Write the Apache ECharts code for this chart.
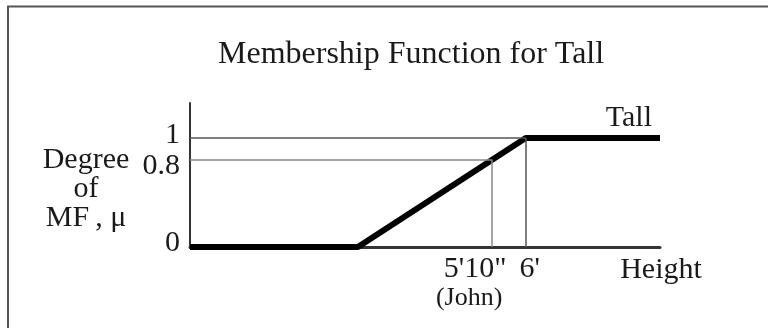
<!DOCTYPE html>
<html>
<head>
<meta charset="utf-8">
<script src="https://cdn.jsdelivr.net/npm/echarts@6/dist/echarts.min.js"></script>
<style>
  html, body { margin: 0; padding: 0; background: #fff; }
  #chart { width: 768px; height: 328px; }
</style>
</head>
<body>
<div id="chart"></div>
<script>
// Height in inches and the fuzzy membership degree for "Tall"
const heights = [52, 62, 72, 80];
const membership = [0, 0, 1, 1];

// John's height (5'10") and his degree of membership
const johnHeight = 70;
const johnDegree = 0.8;
// Height at which membership reaches 1 (6')
const fullHeight = 72;
const fullDegree = 1;

// Tick labels
const johnLabel = '5\'10"';
const johnNote = '(John)';
const fullLabel = "6'";
const yTickValues = [0, 0.8, 1];
const yTickLabels = ['0', '0.8', '1'];

const FONT = "'Liberation Serif', 'DejaVu Serif', serif";
const INK = '#1a1a1a';

const chart = echarts.init(document.getElementById('chart'), null, { renderer: 'canvas' });

const lineData = heights.map((h, i) => [h, membership[i]]);
const xMin = heights[0];
const xMax = heights[heights.length - 1];

// shared settings for the two stacked height axes (one label each)
function heightAxis(extra) {
  return Object.assign({
    type: 'value',
    min: xMin,
    max: xMax,
    position: 'bottom',
    splitLine: { show: false },
    axisTick: { show: false }
  }, extra);
}

chart.setOption({
  backgroundColor: '#fff',
  animation: false,
  title: {
    text: 'Membership Function for Tall',
    left: 213,
    top: 34,
    textStyle: { fontFamily: FONT, fontSize: 32, fontWeight: 'normal', color: INK }
  },
  graphic: [{
    type: 'polyline',
    shape: { points: [[8, 340], [8, 6.5], [780, 6.5]] },
    style: { stroke: '#555', lineWidth: 2, fill: null }
  }],
  grid: { left: 190, right: 108, top: 103, bottom: 81 },
  xAxis: [
    heightAxis({
      axisLine: { lineStyle: { color: '#333', width: 3 } },
      axisLabel: {
        customValues: [johnHeight],
        hideOverlap: false,
        showMinLabel: true,
        showMaxLabel: true,
        margin: 8,
        formatter: function () {
          return '{a|' + johnLabel + '}\n{b|' + johnNote + '}';
        },
        rich: {
          a: { fontFamily: FONT, fontSize: 30, color: INK, lineHeight: 28, padding: [0, 34, 0, 0] },
          b: { fontFamily: FONT, fontSize: 26, color: INK, lineHeight: 30, padding: [0, 46, 0, 0] }
        }
      },
      name: 'Height',
      nameLocation: 'end',
      nameGap: 1,
      nameTextStyle: {
        fontFamily: FONT, fontSize: 30, color: INK,
        align: 'center', verticalAlign: 'top', padding: [8, 0, 0, 0]
      }
    }),
    heightAxis({
      axisLine: { show: false },
      axisLabel: {
        customValues: [fullHeight],
        hideOverlap: false,
        showMinLabel: true,
        showMaxLabel: true,
        margin: 8,
        formatter: function () { return '{c|' + fullLabel + '}'; },
        rich: {
          c: { fontFamily: FONT, fontSize: 30, color: INK, lineHeight: 28, padding: [0, 0, 0, 8] }
        }
      }
    })
  ],
  yAxis: {
    type: 'value',
    min: 0,
    max: 1.32,
    splitLine: { show: false },
    axisTick: { show: false },
    axisLine: { lineStyle: { color: '#333', width: 2 } },
    axisLabel: {
      customValues: yTickValues,
      hideOverlap: false,
      showMinLabel: true,
      showMaxLabel: true,
      margin: 10,
      fontFamily: FONT,
      fontSize: 30,
      color: INK,
      formatter: function (v) {
        const i = yTickValues.indexOf(v);
        const key = v === 0 ? 'z' : (v === 1 ? 'o' : 'm');
        return '{' + key + '|' + yTickLabels[i] + '}';
      },
      rich: {
        z: { fontFamily: FONT, fontSize: 30, color: INK, padding: [0, 0, 8, 0] },
        m: { fontFamily: FONT, fontSize: 30, color: INK, padding: [12, 0, 0, 0] },
        o: { fontFamily: FONT, fontSize: 30, color: INK, padding: [0, 0, 6, 0] }
      }
    },
    // leading blank line drops the three-line caption below the axis middle
    name: '\nDegree\nof\nMF\u2009, \u03bc',
    nameLocation: 'middle',
    nameRotate: 0,
    nameGap: 104,
    nameTextStyle: {
      fontFamily: FONT, fontSize: 30, color: INK, lineHeight: 29,
      align: 'center', verticalAlign: 'middle'
    }
  },
  series: [
    {
      // thin guide lines for John's reading and the 6' threshold
      type: 'line',
      data: [],
      silent: true,
      z: 1,
      markLine: {
        silent: true,
        symbol: 'none',
        label: { show: false },
        data: [
          [{ coord: [xMin, fullDegree], lineStyle: { color: '#555', width: 1.5, type: 'solid' } }, { coord: [fullHeight, fullDegree] }],
          [{ coord: [xMin, johnDegree], lineStyle: { color: '#888', width: 1.5, type: 'solid' } }, { coord: [johnHeight, johnDegree] }],
          [{ coord: [johnHeight, 0], lineStyle: { color: '#888', width: 1.5, type: 'solid' } }, { coord: [johnHeight, johnDegree] }],
          [{ coord: [fullHeight, 0], lineStyle: { color: '#555', width: 1.5, type: 'solid' } }, { coord: [fullHeight, fullDegree] }]
        ]
      }
    },
    {
      type: 'line',
      z: 3,
      symbol: 'none',
      lineStyle: { color: '#000', width: 6, join: 'round' },
      data: lineData,
      endLabel: {
        show: true,
        formatter: 'Tall',
        distance: 0,
        align: 'right',
        verticalAlign: 'bottom',
        offset: [-8, -5],
        fontFamily: FONT,
        fontSize: 30,
        color: INK
      }
    }
  ]
});
</script>
</body>
</html>
